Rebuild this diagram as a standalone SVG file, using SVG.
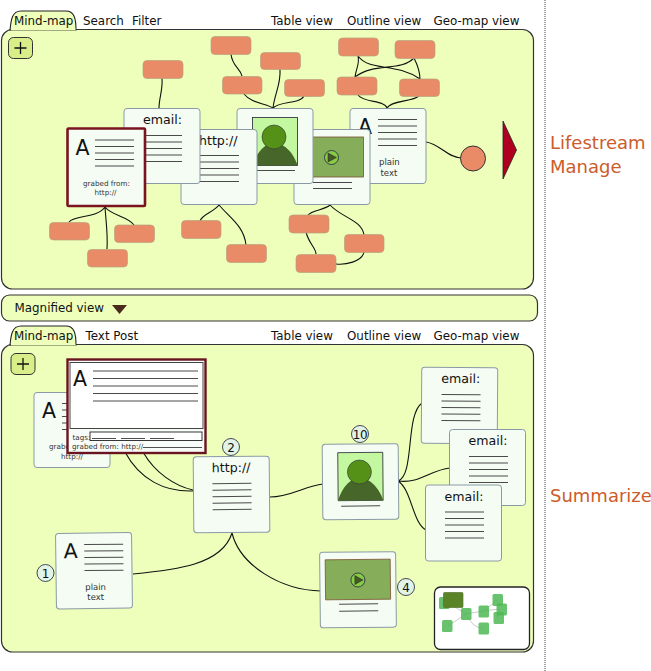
<svg xmlns="http://www.w3.org/2000/svg" width="651" height="671" viewBox="0 0 651 671">
<defs>
<style>
text{font-family:"DejaVu Sans",sans-serif;fill:#111}
.tab{font-size:11.9px}
.panel{fill:#eeffbb;stroke:#333;stroke-width:1.2}
.tabshape{fill:#eeffbb;stroke:#222;stroke-width:1.1}
.plus{fill:#d8ee88;stroke:#333;stroke-width:1}
.pl{fill:none;stroke:#111;stroke-width:1.3}
.card{fill:#f4fcf4;stroke:#8a9aa4;stroke-width:1}
.sel{fill:#f4fcf4;stroke:#7a1420;stroke-width:2.6}
.salmon{fill:#e98b66;stroke:#b8a080;stroke-width:.7}
.c{fill:none;stroke:#111;stroke-width:1.1}
.ln{stroke:#4a4a4a;stroke-width:1}
.lnd{stroke:#222;stroke-width:.8}
.cap{font-size:18px;font-family:"DejaVu Sans",sans-serif;fill:#cc5c2a}
.a{font-size:20.5px}
.t{font-size:12.6px}
.s{font-size:7.2px;fill:#333}
.s2{font-size:8.5px;fill:#333}
.num{fill:#e2f4e8;stroke:#334;stroke-width:.9}
.numt{font-size:12px;text-anchor:middle}
.mini{fill:#4fb855;opacity:.85}
.minil{fill:none;stroke:#bbb;stroke-width:.8}
</style>
<g id="lines5"><path class="ln" d="M0 0H39M0 6.500H39M0 13H39M0 19.500H39M0 26H39"/></g>
</defs>

<path d="M545 0V671" stroke="#444" stroke-width="1" stroke-dasharray="1 1" fill="none"/>

<g id="top-panel">
<rect class="panel" x="1.500" y="29.500" width="532" height="259.500" rx="11"/>
<path class="tabshape" d="M10 30C11 20 12 11 21 11H66C74 11 76 18 76 30H10Z"/>
<path d="M11 29.500H75.500" stroke="#eeffbb" stroke-width="1.600"/>
<text class="tab" x="14" y="25">Mind-map</text>
<text class="tab" x="83" y="25">Search</text>
<text class="tab" x="132" y="25">Filter</text>
<text class="tab" x="271" y="25">Table view</text>
<text class="tab" x="347" y="25">Outline view</text>
<text class="tab" x="433.500" y="25">Geo-map view</text>
<rect class="plus" x="8.500" y="37.500" width="24" height="21" rx="5"/>
<path class="pl" d="M20.500 42V54M14.500 48H26.500"/>
</g>

<g id="top-connectors">
<path class="c" d="M162 78C163 90 159 98 159 108"/>
<path class="c" d="M231 54C232 66 240 68 242 76"/>
<path class="c" d="M280 69C281 85 275 92 273 108"/>
<path class="c" d="M244 94C252 104 266 103 273 108C280 101 300 104 304 96"/>
<path class="c" d="M358 56C360 64 356 68 355 77M358 56C370 72 395 62 420 79M414 58C400 72 375 62 355 77M414 58C418 66 420 72 420 79"/>
<path class="c" d="M358 95C364 103 385 100 387 108C392 100 412 102 419 96"/>
<path class="c" d="M426 142C440 144 448 158 461 158"/>
<path class="c" d="M105 207C98 218 75 215 69 222M105 207C112 216 128 216 134 225M105 207C106 222 108 235 107 249"/>
<path class="c" d="M219 205C214 212 202 214 200 221M219 205C230 218 244 226 246 245"/>
<path class="c" d="M330 205C325 210 312 210 308 215M306 232C309 244 316 248 316 254M330 205C342 218 362 220 364 235M364 252C362 262 345 265 336 264"/>
</g>

<g id="top-salmon">
<rect class="salmon" x="143" y="60.500" width="40" height="18" rx="4"/>
<rect class="salmon" x="211" y="36.500" width="40" height="18" rx="4"/>
<rect class="salmon" x="260.500" y="52.500" width="40" height="17" rx="4"/>
<rect class="salmon" x="222.500" y="76.500" width="39.500" height="17.500" rx="4"/>
<rect class="salmon" x="284.500" y="79.500" width="40" height="17" rx="4"/>
<rect class="salmon" x="338.500" y="38" width="40" height="18" rx="4"/>
<rect class="salmon" x="395" y="40.500" width="40" height="18" rx="4"/>
<rect class="salmon" x="337" y="77" width="40" height="18" rx="4"/>
<rect class="salmon" x="399.500" y="79" width="40" height="17.500" rx="4"/>
<rect class="salmon" x="49.500" y="222.500" width="40" height="17.500" rx="4"/>
<rect class="salmon" x="114.500" y="225" width="40" height="17.500" rx="4"/>
<rect class="salmon" x="87.500" y="249.500" width="40" height="17.500" rx="4"/>
<rect class="salmon" x="181.500" y="220.500" width="39.500" height="18" rx="4"/>
<rect class="salmon" x="226.500" y="244.500" width="40" height="18" rx="4"/>
<rect class="salmon" x="289" y="215" width="40" height="18" rx="4"/>
<rect class="salmon" x="344.500" y="234.500" width="39.500" height="18" rx="4"/>
<rect class="salmon" x="296" y="254.500" width="40" height="18" rx="4"/>
<ellipse class="salmon" cx="473" cy="158.500" rx="12.500" ry="12.500" style="stroke:#333;stroke-width:1"/>
<path d="M503 121L516.500 150L503 179Z" fill="#b00020" stroke="#222" stroke-width=".8"/>
</g>

<g id="top-plain">
<rect class="card" x="350" y="108.500" width="76" height="75" rx="3"/>
<text class="a" x="358" y="134">A</text>
<use href="#lines5" x="378" y="119.500"/>
<text class="s2" x="379" y="165">plain</text>
<text class="s2" x="380.500" y="175.500">text</text>
</g>
<g id="top-video">
<rect class="card" x="294" y="129.500" width="76" height="75" rx="3"/>
<rect x="298.500" y="137" width="65" height="40" fill="#86ae5a" stroke="#7a5030" stroke-width=".8"/>
<circle cx="331.500" cy="157.500" r="7" fill="#88cc44" stroke="#224" stroke-width=".8"/>
<path d="M328 153L336.500 157.500L328 162Z" fill="#445a22" stroke="#223" stroke-width=".5"/>
<path class="ln" d="M313 182.500H352M313 188.500H352"/>
</g>
<g id="top-image">
<rect class="card" x="237" y="108.500" width="76" height="75" rx="3"/>
<rect x="252.500" y="117.500" width="45" height="48" fill="#c4f8a0" stroke="#223" stroke-width=".8"/>
<path d="M252.500 165.500C256 154 264 143 274 143C285 143 294 154 297.500 165.500Z" fill="#47662a"/>
<circle cx="274" cy="137" r="12" fill="#559017" stroke="#334" stroke-width=".6"/>
<path class="ln" d="M256 170.500H295"/>
</g>
<g id="top-http">
<rect class="card" x="181" y="129.500" width="76" height="75" rx="3"/>
<text class="t" x="199" y="144.500">http://</text>
<use href="#lines5" x="200" y="155.500"/>
</g>
<g id="top-email">
<rect class="card" x="124" y="108.500" width="76" height="75" rx="3"/>
<text class="t" x="143" y="124">email:</text>
<use href="#lines5" x="143" y="135.500"/>
</g>
<g id="top-selected">
<rect class="sel" x="67.500" y="128.500" width="77.500" height="77.500" rx="1"/>
<text class="a" x="75.500" y="155">A</text>
<use href="#lines5" x="95" y="140"/>
<text class="s" x="83" y="186">grabed from:</text>
<text class="s" x="94.500" y="195">http://</text>
</g>

<g id="magnified-bar">
<rect class="panel" x="1.500" y="295" width="536" height="26" rx="8"/>
<text class="tab" x="14.500" y="312">Magnified view</text>
<path d="M112 305H127L119.500 314Z" fill="#4a2a1a"/>
</g>

<g id="bottom-panel">
<rect class="panel" x="1.500" y="344.500" width="532" height="307.500" rx="11"/>
<path class="tabshape" d="M10 345C11 335 12 326 21 326H66C74 326 76 333 76 345H10Z"/>
<path d="M11 344.500H75.500" stroke="#eeffbb" stroke-width="1.600"/>
<text class="tab" x="14" y="340">Mind-map</text>
<text class="tab" x="85.500" y="340">Text Post</text>
<text class="tab" x="271" y="340">Table view</text>
<text class="tab" x="347" y="340">Outline view</text>
<text class="tab" x="433.500" y="340">Geo-map view</text>
<rect class="plus" x="11" y="353.500" width="24" height="21" rx="5"/>
<path class="pl" d="M23 358V370M17 364H29"/>
</g>

<g id="bottom-connectors">
<path class="c" d="M125 452C140 480 165 492 193 491"/>
<path class="c" d="M143 452C155 473 175 486 193 490"/>
<path class="c" d="M270 497C290 497 305 486 323 484"/>
<path class="c" d="M133 574C175 570 222 565 232 533C240 565 280 590 321 591"/>
<path class="c" d="M398 481C415 475 405 415 422 403M398 481C420 484 430 470 450 468M398 481C412 490 412 522 426 530"/>
</g>

<g id="bottom-plain-behind">
<rect class="card" x="34" y="392.500" width="76" height="75" rx="3"/>
<text class="a" x="42" y="418">A</text>
<use href="#lines5" x="62" y="403.500"/>
<text class="s" x="49" y="449">grabed from:</text>
<text class="s" x="61" y="459">http://</text>
</g>
<g id="bottom-selected">
<rect x="67.500" y="359.500" width="138" height="93.500" fill="#f8fcf8" stroke="#6a1420" stroke-width="2.400"/>
<rect x="70" y="362.500" width="133" height="66" fill="#fff" stroke="#444" stroke-width="1"/>
<text class="a" x="73" y="386">A</text>
<path class="ln" d="M93 371H198M93 378.500H198M93 386H198M93 393.500H198M93 401H198"/>
<text class="s" x="72.500" y="439.500">tags:</text>
<rect x="90" y="432" width="112" height="8.500" fill="#fff" stroke="#222" stroke-width=".9"/>
<path class="lnd" d="M92 438.500H116M121 438.500H145M150 438.500H174"/>
<text class="s" x="72" y="448.500">grabed from: http://</text>
<path class="lnd" d="M143 447.500H202"/>
</g>
<g id="badge-2">
<circle class="num" cx="231" cy="447" r="8.500"/>
<text class="numt" x="231" y="451.500">2</text>
</g>
<g id="bottom-http" transform="rotate(-.5 231 494)">
<rect class="card" x="193.500" y="456.500" width="76" height="76" rx="3"/>
<text class="t" x="212" y="472">http://</text>
<use href="#lines5" x="212.500" y="483.500"/>
</g>
<g id="bottom-plain" transform="rotate(-.7 94 571)">
<rect class="card" x="56" y="533" width="76" height="75.500" rx="3"/>
<text class="a" x="64" y="558">A</text>
<use href="#lines5" x="84.500" y="544.500"/>
<text class="s2" x="85" y="590">plain</text>
<text class="s2" x="87" y="600">text</text>
</g>
<g id="badge-1">
<circle class="num" cx="45.500" cy="573" r="8.500"/>
<text class="numt" x="45.500" y="577.500">1</text>
</g>
<g id="badge-10">
<circle class="num" cx="360" cy="434" r="8.500"/>
<text class="numt" x="360" y="438.500" style="letter-spacing:-.5px">10</text>
</g>
<g id="bottom-image" transform="rotate(-.5 360 482)">
<rect class="card" x="322.500" y="444" width="76" height="75.500" rx="3"/>
<rect x="338" y="452.500" width="45" height="48" fill="#c4f8a0" stroke="#223" stroke-width=".8"/>
<path d="M338 500.500C341 490 349 478 359.500 478C371 478 380 490 383 500.500Z" fill="#47662a"/>
<circle cx="359.500" cy="472" r="12" fill="#559017" stroke="#334" stroke-width=".6"/>
<path class="ln" d="M341 506H380"/>
</g>
<g id="bottom-email-1" transform="rotate(.4 459 405)">
<rect class="card" x="421.500" y="367.500" width="76" height="76" rx="3"/>
<text class="t" x="441" y="383">email:</text>
<use href="#lines5" x="441.500" y="394.500"/>
</g>
<g id="bottom-email-2">
<rect class="card" x="449.500" y="429.500" width="76" height="76" rx="3"/>
<text class="t" x="468.500" y="445">email:</text>
<use href="#lines5" x="469" y="456.500"/>
</g>
<g id="bottom-email-3">
<rect class="card" x="425.500" y="485" width="76" height="76" rx="3"/>
<text class="t" x="444.500" y="500.500">email:</text>
<use href="#lines5" x="445" y="512"/>
</g>
<g id="bottom-video" transform="rotate(-.6 358 590)">
<rect class="card" x="320" y="552" width="76" height="75.500" rx="3"/>
<rect x="325.500" y="559.500" width="65" height="40" fill="#86ae5a" stroke="#7a5030" stroke-width=".8"/>
<circle cx="358" cy="580" r="7" fill="#88cc44" stroke="#224" stroke-width=".8"/>
<path d="M355 575.500L363 580L355 584.500Z" fill="#445a22" stroke="#223" stroke-width=".5"/>
<path class="ln" d="M339 604H378M339 611H378"/>
</g>
<g id="badge-4">
<circle class="num" cx="406" cy="587" r="8.500"/>
<text class="numt" x="406" y="591.500">4</text>
</g>

<g id="minimap">
<rect x="434.500" y="587" width="95" height="62.500" rx="6" fill="#fff" stroke="#222" stroke-width="1.300"/>
<path class="minil" d="M450 604L466 614L448 626M466 614L483 611L498 600M483 611L500 609L497 618M466 614C472 626 478 628 483 628"/>
<rect class="mini" x="439" y="597" width="10.500" height="12" rx="1.500"/>
<rect class="mini" x="461" y="608" width="10.500" height="12" rx="1.500"/>
<rect class="mini" x="442" y="620" width="10.500" height="12" rx="1.500"/>
<rect class="mini" x="478.500" y="605.500" width="10.500" height="12" rx="1.500"/>
<rect class="mini" x="478.500" y="622.500" width="10.500" height="12" rx="1.500"/>
<rect class="mini" x="492.500" y="594" width="10.500" height="12" rx="1.500"/>
<rect class="mini" x="496.500" y="603.500" width="10.500" height="12" rx="1.500"/>
<rect class="mini" x="493.500" y="612" width="10.500" height="12" rx="1.500"/>
<rect x="443.500" y="592.500" width="19.500" height="15" rx="1" fill="#5b8428" stroke="#4a6a20" stroke-width=".6"/>
</g>

<text class="cap" x="550" y="148.500">Lifestream</text>
<text class="cap" x="550" y="172.500">Manage</text>
<text class="cap" x="550" y="502">Summarize</text>
</svg>
